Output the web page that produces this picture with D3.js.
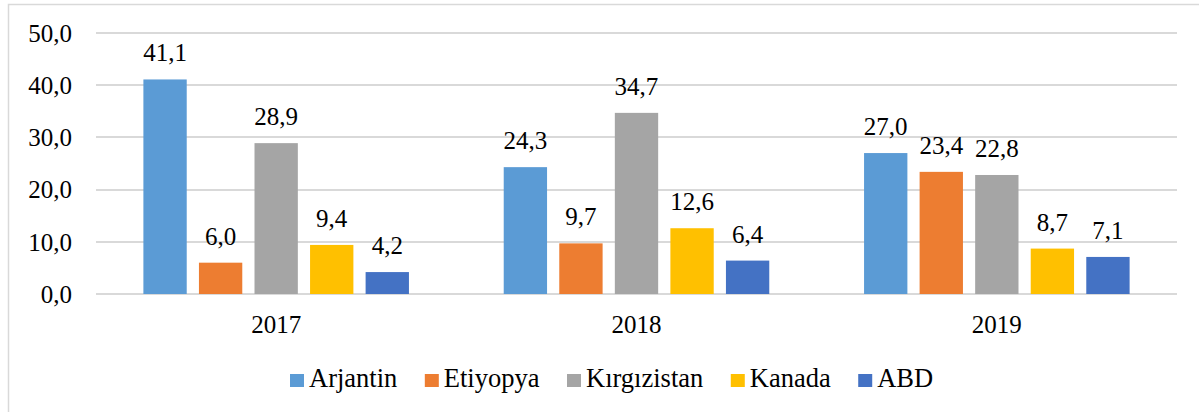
<!DOCTYPE html>
<html>
<head>
<meta charset="utf-8">
<script src="https://cdn.jsdelivr.net/npm/d3@7"></script>
<style>
html,body{margin:0;padding:0;background:#fff;}
svg{display:block;}
</style>
</head>
<body>
<svg id="chart" width="1199" height="412" font-family="Liberation Serif"></svg>
<script>
const years = ["2017", "2018", "2019"];
const seriesNames = ["Arjantin", "Etiyopya", "Kırgızistan", "Kanada", "ABD"];
const arjantin = [41.1, 24.3, 27.0];
const etiyopya = [6.0, 9.7, 23.4];
const kirgizistan = [28.9, 34.7, 22.8];
const kanada = [9.4, 12.6, 8.7];
const abd = [4.2, 6.4, 7.1];
const yTicks = [0, 10, 20, 30, 40, 50];
const colors = ["#5B9BD5", "#ED7D31", "#A5A5A5", "#FFC000", "#4472C4"];

const seriesValues = [arjantin, etiyopya, kirgizistan, kanada, abd];
const fmt = v => v.toFixed(1).replace(".", ",");
const TSTYLE = "font-family:'Liberation Serif';font-size:25px";
const LSTYLE = "font-family:'Liberation Serif';font-size:26.5px";

(function draw() {
const svg = d3.select("#chart");
svg.append("rect").attr("x", 8.5).attr("y", 4.5).attr("width", 1300).attr("height", 500)
  .attr("fill", "none").attr("stroke", "#d9d9d9").attr("stroke-width", 1.5);

const pLeft = 96, pRight = 1177, pTop = 33, pBottom = 294;
const y = d3.scaleLinear().domain([0, 50]).range([pBottom, pTop]);
const x0 = d3.scaleBand().domain(years).range([pLeft, pRight]).padding(0);
const x1 = d3.scaleBand().domain(seriesNames).range([0, x0.bandwidth()])
  .paddingInner(0.22).paddingOuter(0.853);

// gridlines
svg.append("g").selectAll("line").data(yTicks).join("line")
  .attr("x1", pLeft).attr("x2", pRight)
  .attr("y1", d => Math.round(y(d))).attr("y2", d => Math.round(y(d)))
  .attr("stroke", "#d9d9d9").attr("stroke-width", 2);

// y axis labels
const yAxis = d3.axisLeft(y).tickValues(yTicks).tickFormat(fmt).tickSize(0).tickPadding(0);
const gy = svg.append("g").attr("transform", `translate(72,0)`).call(yAxis);
gy.select(".domain").remove();
gy.attr("font-family", "Liberation Serif").attr("font-size", 25);
gy.selectAll("text").attr("style", TSTYLE).attr("font-family", "Liberation Serif").attr("fill", "#000").attr("dy", "0.33em");

// x axis labels
const xAxis = d3.axisBottom(x0).tickSize(0).tickPadding(0);
const gx = svg.append("g").attr("transform", `translate(0,333)`).call(xAxis);
gx.select(".domain").remove();
gx.attr("font-family", "Liberation Serif").attr("font-size", 25);
gx.selectAll("text").attr("style", TSTYLE).attr("font-family", "Liberation Serif").attr("fill", "#000").attr("dy", 0);

// bars
const groups = svg.append("g").selectAll("g").data(years).join("g")
  .attr("transform", d => `translate(${x0(d)},0)`);
groups.each(function(yr, yi) {
  const g = d3.select(this);
  const rows = seriesNames.map((s, si) => ({s, si, v: seriesValues[si][yi]}));
  g.selectAll("rect").data(rows).join("rect")
    .attr("x", d => x1(d.s)).attr("width", x1.bandwidth())
    .attr("y", d => y(d.v)).attr("height", d => y(0) - y(d.v))
    .attr("fill", d => colors[d.si]);
  g.selectAll("text").data(rows).join("text")
    .attr("x", d => x1(d.s) + x1.bandwidth() / 2)
    .attr("y", d => y(d.v) - 18)
    .attr("text-anchor", "middle")
    .attr("style", TSTYLE).attr("font-family", "Liberation Serif")
    .text(d => fmt(d.v));
});

// legend
const leg = svg.append("g");
let lx = 290;
seriesNames.forEach((s, i) => {
  leg.append("rect").attr("x", lx).attr("y", 374).attr("width", 14).attr("height", 13).attr("fill", colors[i]);
  const t = leg.append("text").attr("x", lx + 19).attr("y", 387)
    .attr("style", LSTYLE).attr("font-family", "Liberation Serif").text(s);
  const w = t.node().getComputedTextLength();
  lx = lx + 19 + w + 27.5;
});
})();
</script>
</body>
</html>
